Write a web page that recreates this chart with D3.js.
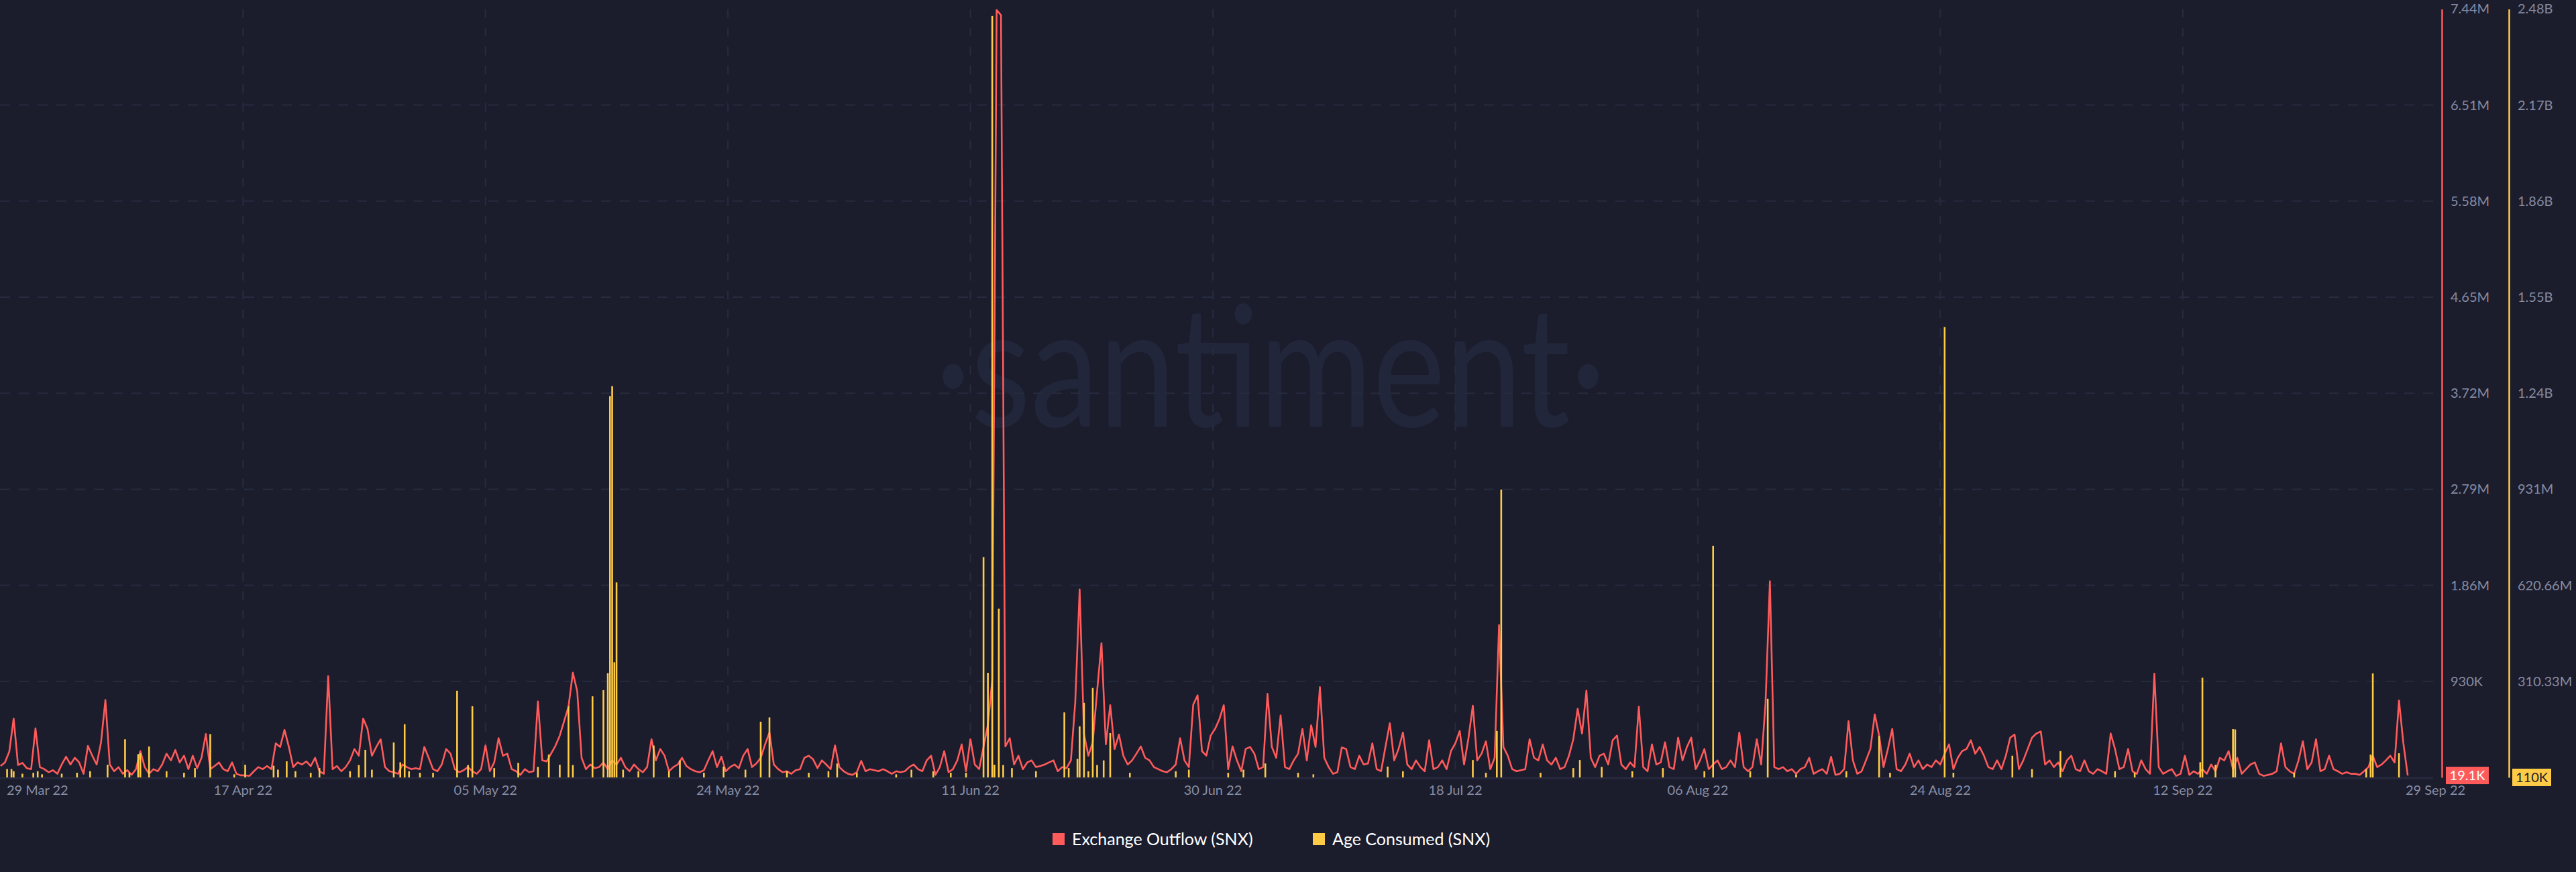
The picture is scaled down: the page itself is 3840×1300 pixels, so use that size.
<!DOCTYPE html>
<html>
<head>
<meta charset="utf-8">
<script src="https://cdn.jsdelivr.net/npm/d3@7"></script>
<style>
  html, body { margin: 0; padding: 0; background: #1b1d2d; }
  svg { display: block; }
</style>
</head>
<body>
<svg id="chart" width="3840" height="1300"></svg>
<script>
// ---------------- DATA ----------------
// Exchange Outflow (SNX), thousands of SNX, one value every 8 hours starting 29 Mar 2022 12:00 UTC
const outflowStart = Date.UTC(2022, 2, 29, 12);
const outflowStepHours = 8;
const outflowK = [
  110,145,250,570,120,140,90,80,475,100,
  80,50,70,35,125,200,125,190,145,35,
  305,210,125,340,750,125,60,100,35,70,
  25,80,255,100,35,80,60,125,230,165,
  265,145,210,80,210,90,190,420,80,110,
  145,80,60,145,35,20,20,15,60,100,
  80,110,80,330,295,460,295,100,145,125,
  155,110,190,60,35,980,80,110,60,100,
  165,275,210,570,470,210,295,370,100,60,
  50,35,125,100,80,90,80,295,190,80,
  60,125,275,230,80,50,70,100,60,35,
  80,310,60,145,380,210,230,80,60,25,
  80,50,60,735,165,155,230,305,405,545,
  685,1015,835,190,80,125,90,100,145,80,
  165,125,190,100,60,125,80,50,100,370,
  165,275,210,60,100,125,190,110,80,60,
  50,70,165,255,100,200,60,100,125,90,
  210,275,100,135,190,320,435,125,80,50,
  60,35,70,80,190,210,175,90,165,125,
  80,310,100,60,35,25,50,160,60,80,
  70,60,80,60,35,60,50,60,100,125,
  80,60,165,210,25,100,255,50,80,165,
  320,60,370,125,80,295,510,945,7430,7380,
  300,380,125,210,80,145,165,100,110,125,
  145,165,60,100,90,165,730,1820,420,210,
  340,835,1300,320,700,275,415,210,125,165,
  230,300,190,165,100,80,60,50,80,125,
  380,165,100,705,795,255,210,405,470,565,
  700,80,300,165,60,275,295,230,80,100,
  810,295,190,600,100,80,165,230,470,165,
  505,295,875,190,100,35,50,290,275,100,
  80,210,125,135,330,80,60,295,525,165,
  275,435,125,80,165,100,60,360,80,100,
  165,80,255,330,450,125,380,695,165,230,
  350,80,190,1475,295,210,80,60,70,80,
  370,190,165,320,165,125,190,80,100,210,
  370,665,425,840,190,100,210,230,125,360,
  405,125,80,145,100,685,100,60,320,125,
  145,340,100,80,385,165,295,385,80,165,
  275,80,125,165,80,100,165,100,435,100,
  60,100,370,125,720,1900,100,80,100,60,
  80,35,80,100,190,35,60,80,35,200,
  25,35,80,545,165,35,60,165,275,610,
  405,100,275,470,80,60,125,230,100,165,
  80,125,100,165,125,230,320,80,190,255,
  275,360,230,295,210,100,80,165,80,210,
  385,415,80,165,275,385,425,445,125,165,
  100,145,60,165,210,80,60,165,60,35,
  80,60,35,425,275,80,100,275,60,35,
  165,80,35,1005,100,35,60,80,15,35,
  210,25,60,35,80,35,125,60,190,165,
  255,80,190,35,80,125,145,35,15,25,
  35,60,330,100,60,35,165,350,80,145,
  370,60,80,210,80,60,35,50,35,35,
  25,60,100,210,100,125,165,210,145,745,
  330,19.1
];

// Age Consumed (SNX), millions; slot = 4-hour slot index counted from 29 Mar 2022 12:00 UTC
const ageSlotHours = 4;
const ageSlots = [
  3,5,6,10,15,17,19,28,35,41,49,57,59,63,64,68,76,84,89,96,
  107,112,125,127,131,135,142,146,160,164,167,170,180,183,185,187,192,198,209,214,
  216,226,237,246,251,256,260,262,271,276,278,279,280,281,282,285,292,299,306,311,
  322,331,341,348,352,360,370,379,383,392,410,417,427,435,442,450,452,454,455,457,
  459,463,474,487,489,493,494,496,498,500,502,505,508,517,538,544,
  562,569,579,594,601,635,642,674,680,685,687,705,720,723,733,747,761,780,784,801,
  809,822,845,860,865,890,894,921,930,943,968,977,1007,1008,1014,1022,1023,1050,1083,1085,
  1086,1098,1101
];
const ageM = [
  27,27,20,12,15,20,10,12,15,20,41,123,15,75,78,100,20,15,30,140,
  10,41,38,25,52,20,15,30,20,40,89,25,113,49,172,20,15,15,280,40,
  230,30,47,34,74,41,230,40,262,282,337,1232,1264,372,630,25,20,103,20,55,
  15,35,25,180,194,20,15,20,45,15,10,25,20,15,15,712,338,2460,41,545,
  40,30,20,210,30,60,165,241,20,289,40,55,143,15,20,25,
  15,25,45,15,10,35,20,56,15,150,930,15,30,56,34,20,30,20,748,20,
  254,10,20,134,15,1455,15,70,27,85,20,15,49,322,41,156,155,15,27,74,
  336,78,0.11
];

// Axis ticks
const outTickValues = [930e3, 1.86e6, 2.79e6, 3.72e6, 4.65e6, 5.58e6, 6.51e6, 7.44e6];
const outTickLabels = ["930K", "1.86M", "2.79M", "3.72M", "4.65M", "5.58M", "6.51M", "7.44M"];
const ageTickValues = [310.33e6, 620.66e6, 931e6, 1241.32e6, 1551.65e6, 1861.98e6, 2172.31e6, 2482.64e6];
const ageTickLabels = ["310.33M", "620.66M", "931M", "1.24B", "1.55B", "1.86B", "2.17B", "2.48B"];
const dateTicks = ["2022-03-29T11:00Z","2022-04-17T00:00Z","2022-05-05T12:00Z","2022-05-24T00:00Z","2022-06-11T12:00Z",
                   "2022-06-30T00:00Z","2022-07-18T12:00Z","2022-08-06T00:00Z","2022-08-24T12:00Z","2022-09-12T00:00Z","2022-09-29T00:00Z"];
const dateTickLabels = ["29 Mar 22","17 Apr 22","05 May 22","24 May 22","11 Jun 22","30 Jun 22","18 Jul 22","06 Aug 22","24 Aug 22","12 Sep 22","29 Sep 22"];
const seriesNames = ["Exchange Outflow (SNX)", "Age Consumed (SNX)"];
const lastOutflowLabel = "19.1K";
const lastAgeLabel = "110K";

// ---------------- LAYOUT / STYLE ----------------
const W = 3840, H = 1300;
const plotLeft = 0, plotRight = 3590, gridRight = 3627;
const plotTop = 13.4, plotBottom = 1159;
const redAxisX = 3640, yellowAxisX = 3740;
const C = {
  bg: "#1b1d2d", red: "#ff5b5b", yellow: "#ffcb47", grid: "#272b3e",
  tick: "#878ca3", legend: "#ffffff", watermark: "#22263a", baseline: "#262a3c"
};
const FONT = "Lato, 'Open Sans', sans-serif";

const svg = d3.select("#chart");
svg.append("rect").attr("width", W).attr("height", H).attr("fill", C.bg);

const x = d3.scaleUtc()
  .domain([new Date("2022-03-29T11:00Z"), new Date("2022-09-29T05:00Z")])
  .range([plotLeft, plotRight]);
const yOut = d3.scaleLinear().domain([0, 7.44e6]).range([plotBottom, plotTop]);
const yAge = d3.scaleLinear().domain([0, 2482.64e6]).range([plotBottom, plotTop]);

// watermark
svg.append("text")
  .attr("x", 1394).attr("y", 636)
  .attr("textLength", 1000).attr("lengthAdjust", "spacingAndGlyphs")
  .attr("font-family", FONT).attr("font-size", 250).attr("fill", C.watermark)
  .text("·santiment·");

// horizontal grid
svg.append("g").selectAll("line")
  .data(outTickValues.slice(0, 7))
  .join("line")
  .attr("x1", plotLeft).attr("x2", gridRight)
  .attr("y1", d => yOut(d)).attr("y2", d => yOut(d))
  .attr("stroke", C.grid).attr("stroke-width", 2).attr("stroke-dasharray", "15,13");

// vertical grid
svg.append("g").selectAll("line")
  .data(dateTicks.slice(1, 10))
  .join("line")
  .attr("x1", d => x(new Date(d))).attr("x2", d => x(new Date(d)))
  .attr("y1", plotTop).attr("y2", plotBottom)
  .attr("stroke", C.grid).attr("stroke-width", 2).attr("stroke-dasharray", "13,15");

// baseline
svg.append("line")
  .attr("x1", plotLeft).attr("x2", gridRight)
  .attr("y1", plotBottom + 1).attr("y2", plotBottom + 1)
  .attr("stroke", C.baseline).attr("stroke-width", 3);

// Exchange Outflow line
const outData = outflowK.map((v, i) => ({ t: new Date(outflowStart + i * outflowStepHours * 3600e3), v: v * 1000 }));
const line = d3.line().x(d => x(d.t)).y(d => yOut(d.v));
svg.append("path")
  .datum(outData)
  .attr("d", line)
  .attr("fill", "none")
  .attr("stroke", C.red)
  .attr("stroke-width", 2.6)
  .attr("stroke-linejoin", "round");

// Age Consumed bars
const ageData = ageSlots.map((s, k) => ({ t: new Date(outflowStart + s * ageSlotHours * 3600e3), v: ageM[k] * 1e6 }));
const barW = 2.6;
svg.append("g").selectAll("rect")
  .data(ageData)
  .join("rect")
  .attr("x", d => x(d.t) - barW / 2)
  .attr("width", barW)
  .attr("y", d => yAge(d.v))
  .attr("height", d => Math.max(0, plotBottom - yAge(d.v)))
  .attr("fill", C.yellow);

// Right axes
const outAxis = d3.axisRight(yOut)
  .tickValues(outTickValues)
  .tickFormat((d, i) => outTickLabels[i])
  .tickSize(0).tickSizeOuter(0).tickPadding(13);
const gOut = svg.append("g").attr("transform", `translate(${redAxisX},0)`).call(outAxis);
gOut.select(".domain").attr("stroke", C.red).attr("stroke-width", 2.5);
gOut.selectAll("text").attr("fill", C.tick).attr("font-family", FONT).attr("font-size", 20);

const ageAxis = d3.axisRight(yAge)
  .tickValues(ageTickValues)
  .tickFormat((d, i) => ageTickLabels[i])
  .tickSize(0).tickSizeOuter(0).tickPadding(13);
const gAge = svg.append("g").attr("transform", `translate(${yellowAxisX},0)`).call(ageAxis);
gAge.select(".domain").attr("stroke", C.yellow).attr("stroke-width", 2.5);
gAge.selectAll("text").attr("fill", C.tick).attr("font-family", FONT).attr("font-size", 20);

// Last value badges
const lastOut = outflowK[outflowK.length - 1] * 1000;
const lastAge = ageM[ageM.length - 1] * 1e6;
const redBadgeY = yOut(lastOut);
svg.append("rect").attr("x", redAxisX + 6).attr("y", redBadgeY - 13).attr("width", 64).attr("height", 26).attr("fill", C.red);
svg.append("text").attr("x", redAxisX + 38).attr("y", redBadgeY).attr("dy", "0.36em")
  .attr("text-anchor", "middle").attr("font-family", FONT).attr("font-size", 20).attr("fill", "#ffffff")
  .text(lastOutflowLabel);
const yelBadgeY = yAge(lastAge);
svg.append("rect").attr("x", yellowAxisX + 5).attr("y", yelBadgeY - 13).attr("width", 58).attr("height", 26).attr("fill", C.yellow);
svg.append("text").attr("x", yellowAxisX + 34).attr("y", yelBadgeY).attr("dy", "0.36em")
  .attr("text-anchor", "middle").attr("font-family", FONT).attr("font-size", 20).attr("fill", "#1b1d2d")
  .text(lastAgeLabel);

// X axis labels
const gx = svg.append("g");
dateTicks.forEach((d, i) => {
  let px = x(new Date(d));
  let anchor = "middle";
  if (i === 0) { px = px + 10; anchor = "start"; }
  if (i === dateTicks.length - 1) { anchor = "start"; }
  gx.append("text")
    .attr("x", px).attr("y", 1185)
    .attr("text-anchor", anchor)
    .attr("font-family", FONT).attr("font-size", 20).attr("fill", C.tick)
    .text(dateTickLabels[i]);
});

// Legend
const legend = svg.append("g");
const legendItems = [
  { name: seriesNames[0], color: C.red, x: 1569 },
  { name: seriesNames[1], color: C.yellow, x: 1957 }
];
legendItems.forEach(it => {
  legend.append("rect").attr("x", it.x).attr("y", 1242).attr("width", 18).attr("height", 18).attr("fill", it.color);
  legend.append("text").attr("x", it.x + 29).attr("y", 1251).attr("dy", "0.35em")
    .attr("font-family", FONT).attr("font-size", 25).attr("fill", C.legend)
    .text(it.name);
});
</script>
</body>
</html>
